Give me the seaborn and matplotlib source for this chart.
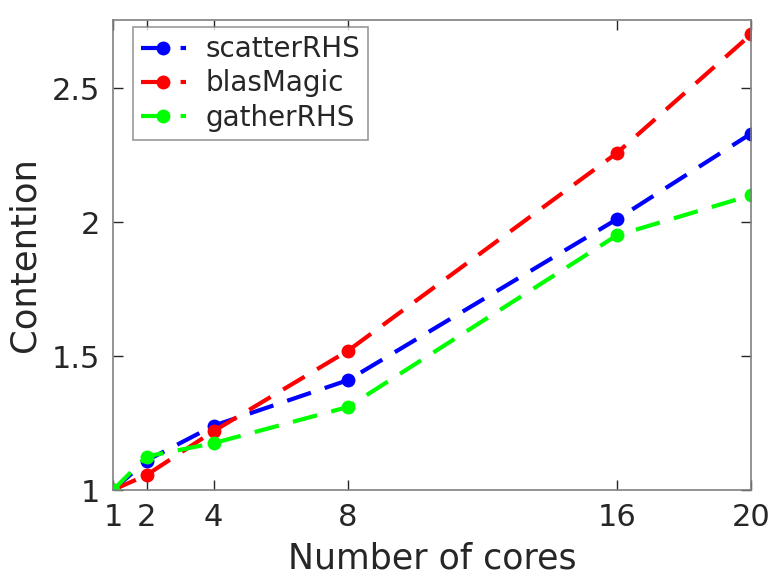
import pandas as pd
import seaborn as sns
import numpy as np
import matplotlib.pyplot as plt

cores = [1, 2, 4, 8, 16, 20]
scatter_rhs = [1.0, 1.11, 1.24, 1.41, 2.01, 2.33]
blas_magic = [1.0, 1.056, 1.22, 1.52, 2.257, 2.70]
gather_rhs = [1.0, 1.125, 1.175, 1.31, 1.95, 2.10]

df = pd.DataFrame({
    "cores": cores * 3,
    "Contention": scatter_rhs + blas_magic + gather_rhs,
    "series": ["scatterRHS"] * 6 + ["blasMagic"] * 6 + ["gatherRHS"] * 6,
})

sns.set_style("white")
plt.rcParams['font.family'] = ['DejaVu Sans']

fig = plt.figure(figsize=(7.71, 5.76), dpi=100)
ax = fig.add_axes([113 / 771, 1 - 490 / 576, 638 / 771, 470 / 576])

palette = {"scatterRHS": "#0000ff", "blasMagic": "#ff0000", "gatherRHS": "#00ff00"}
sns.lineplot(data=df, x="cores", y="Contention", hue="series", palette=palette,
             marker="o", markersize=10, markeredgewidth=0, linewidth=3,
             dashes=False, ax=ax)
for line in ax.get_lines():
    line.set_linestyle((0, (6, 3.5)))

ax.set_xlim(1, 20)
ax.set_ylim(1, 2.754)
ax.set_xticks(cores)
ax.set_yticks([1, 1.5, 2, 2.5])
ax.set_yticklabels(["1", "1.5", "2", "2.5"])
ax.tick_params(direction="in", length=7, width=1, labelsize=22, colors="#262626",
               top=True, right=True, bottom=True, left=True, pad=9)
for s in ax.spines.values():
    s.set_color("#808080")
    s.set_linewidth(1.2)
ax.set_xlabel("Number of cores", fontsize=25, color="#262626", labelpad=7)
ax.set_ylabel("Contention", fontsize=25.5, color="#262626", labelpad=8)

handles, labels = ax.get_legend_handles_labels()
for h in handles:
    h.set_linestyle((0, (6, 3.5)))
leg = ax.legend(handles, labels, loc="upper left", bbox_to_anchor=(0.031, 0.985),
                borderaxespad=0, fontsize=20, frameon=True, fancybox=False,
                edgecolor="#808080", handlelength=1.6, handletextpad=0.7,
                labelspacing=0.22, borderpad=0.3)
leg.get_frame().set_linewidth(1.2)

fig.savefig("out.png", dpi=100)
